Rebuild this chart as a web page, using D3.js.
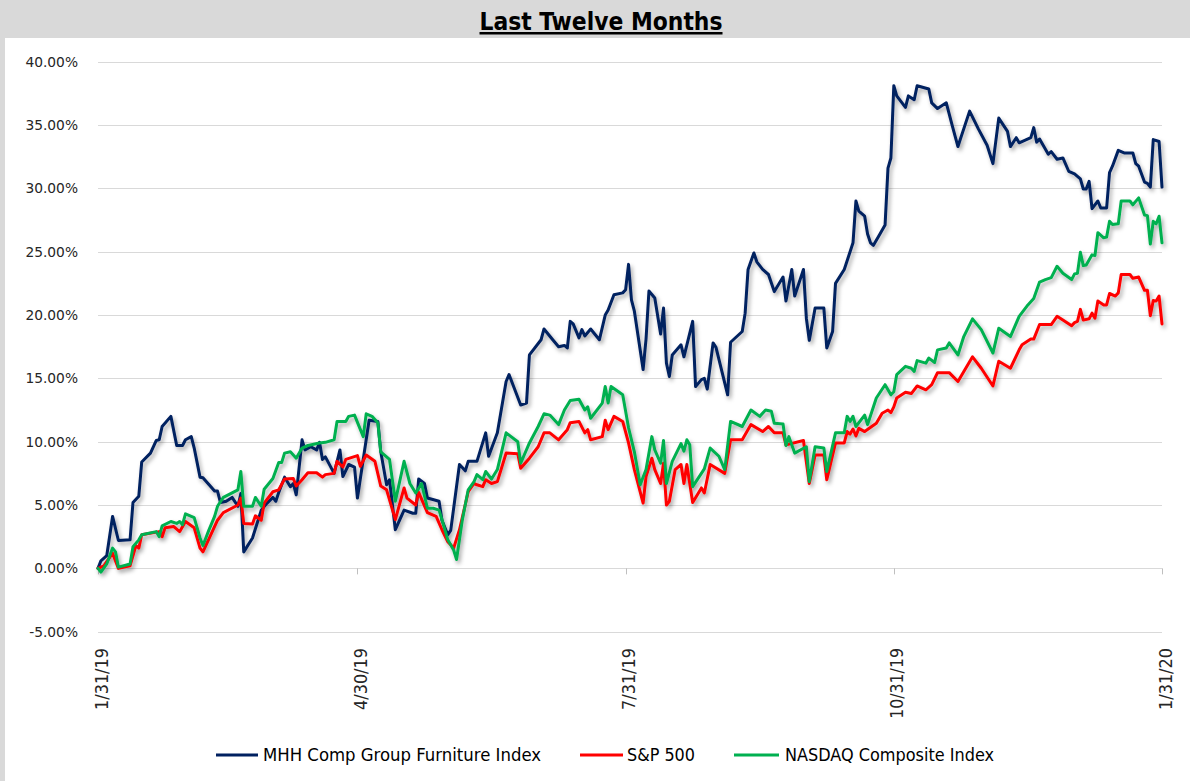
<!DOCTYPE html>
<html>
<head>
<meta charset="utf-8">
<script src="https://cdn.jsdelivr.net/npm/d3@7"></script>
<style>
  html, body { margin: 0; padding: 0; background: #d9d9d9; }
  svg { display: block; }
</style>
</head>
<body>
<svg id="chart" width="1190" height="781"></svg>
<script>
// ---------- DATA (day offset from 1/31/2019, % return) ----------
const startDateStr = "2019-01-31";
const seriesNames = ["MHH Comp Group Furniture Index", "S&P 500", "NASDAQ Composite Index"];
const seriesColors = ["#002060", "#ff0000", "#00b050"];
const yTickValues = [-5, 0, 5, 10, 15, 20, 25, 30, 35, 40];
const xTickDates = ["2019-01-31", "2019-04-30", "2019-07-31", "2019-10-31", "2020-01-31"];
const xTickLabels = ["1/31/19", "4/30/19", "7/31/19", "10/31/19", "1/31/20"];

const mhh = [
  [0,0.0],[1,0.6],[3,1.0],[5,4.1],[7,2.2],[11,2.25],[12,5.2],[14,5.7],[15,8.4],[18,9.1],
  [20,10.1],[21,10.15],[22,11.2],[25,12.0],[27,9.7],[29,9.7],[30,10.15],[32,10.4],[33,9.5],[35,7.2],
  [36,7.15],[40,6.1],[41,6.1],[42,5.2],[44,5.3],[46,5.6],[48,4.9],[49,5.9],[50,1.3],[53,2.4],
  [56,4.6],[58,5.15],[60,5.6],[61,5.3],[62,6.0],[64,7.2],[66,6.45],[67,6.7],[68,5.8],[70,10.15],
  [71,9.35],[73,9.6],[75,9.35],[76,9.95],[77,8.6],[78,8.8],[81,7.5],[83,9.35],[84,7.25],[86,8.2],
  [88,8.0],[89,5.55],[92,10.15],[93,11.7],[96,11.6],[97,9.2],[99,6.6],[100,7.0],[102,3.05],[105,4.6],
  [108,4.35],[109,4.35],[110,7.05],[112,6.7],[113,5.55],[117,5.3],[118,3.8],[120,2.65],[121,3.0],[124,8.2],
  [126,7.7],[127,8.45],[130,8.45],[131,9.2],[133,10.7],[134,8.85],[137,10.7],[140,14.75],[141,15.3],[145,12.9],
  [147,13.05],[148,16.85],[152,18.05],[153,18.9],[156,18.05],[158,17.5],[160,17.6],[161,17.4],[162,19.5],[163,19.3],
  [165,18.2],[166,18.85],[167,18.35],[169,18.9],[172,18.05],[174,20.0],[175,20.4],[177,21.6],[180,21.75],[181,22.0],
  [182,24.0],[183,21.2],[184,20.3],[187,15.7],[188,18.1],[189,21.9],[191,21.35],[193,18.5],[194,20.55],[195,16.2],
  [196,15.15],[197,16.85],[200,17.65],[201,16.7],[204,19.5],[205,14.35],[207,14.9],[208,15.0],[209,14.15],[211,17.8],
  [212,17.45],[216,13.7],[217,17.85],[221,18.7],[222,20.15],[223,23.6],[225,24.9],[226,24.2],[228,23.6],[230,23.2],
  [232,21.85],[235,23.0],[236,21.1],[238,23.6],[239,21.5],[242,23.6],[243,19.75],[244,18.0],[246,20.55],[249,20.55],
  [250,17.4],[252,18.7],[253,22.5],[256,23.6],[258,25.0],[259,25.7],[260,29.0],[261,28.2],[263,27.8],[264,26.4],
  [265,25.7],[266,25.5],[268,26.3],[270,27.1],[271,31.6],[272,32.4],[273,38.1],[274,37.3],[277,36.4],[278,37.3],
  [280,37.0],[281,38.1],[285,37.85],[286,36.75],[288,36.3],[291,36.75],[293,35.0],[295,33.3],[299,36.1],[302,34.7],
  [305,33.4],[307,31.95],[309,35.55],[312,34.5],[313,33.3],[315,34.0],[316,33.6],[320,34.0],[321,34.8],[322,33.65],
  [323,33.9],[326,32.7],[327,32.9],[329,32.3],[331,32.4],[333,31.35],[335,31.15],[337,30.75],[338,29.95],[339,29.95],
  [340,30.55],[341,28.4],[343,29.0],[344,28.45],[346,28.45],[347,31.25],[348,31.75],[350,33.0],[352,32.8],[355,32.8],
  [356,31.95],[357,31.75],[359,30.5],[360,30.4],[361,30.1],[362,33.85],[364,33.7],[365,30.1]
];

const sp500 = [
  [0,0.0],[2,0.2],[5,1.2],[7,0.0],[11,0.2],[13,1.8],[14,1.6],[15,2.65],[21,2.9],[22,2.5],
  [23,3.2],[26,3.3],[28,2.9],[30,3.7],[33,3.2],[35,1.6],[36,1.3],[41,3.8],[43,4.4],[48,5.0],
  [49,5.55],[50,3.55],[53,3.5],[54,4.15],[56,3.8],[57,5.15],[60,6.05],[62,6.2],[64,7.05],[67,7.1],
  [68,6.5],[70,7.0],[72,7.55],[75,7.55],[77,7.2],[78,7.4],[81,7.5],[82,8.45],[84,8.0],[85,8.6],
  [89,8.9],[90,8.05],[92,8.95],[95,8.45],[97,6.5],[99,6.2],[102,3.85],[105,6.35],[106,5.55],[109,5.0],
  [110,6.0],[113,4.4],[116,4.1],[118,3.05],[120,2.1],[122,1.6],[124,3.05],[127,6.05],[129,6.7],[130,6.6],
  [132,6.45],[133,7.0],[135,6.7],[137,6.85],[140,9.1],[144,9.05],[145,7.9],[148,8.7],[151,9.6],[153,10.7],
  [155,10.7],[158,10.15],[161,10.95],[162,11.5],[165,11.6],[167,10.7],[168,10.95],[169,10.15],[173,10.4],[174,11.7],
  [175,10.95],[177,12.0],[180,11.6],[182,9.9],[184,7.8],[187,5.15],[188,7.25],[190,8.7],[191,7.8],[193,6.7],
  [194,8.3],[195,5.0],[196,5.3],[198,7.8],[200,8.2],[201,6.7],[202,8.2],[204,5.2],[207,6.35],[208,5.95],
  [210,8.2],[215,7.5],[217,10.15],[221,10.15],[224,11.35],[228,10.8],[230,11.2],[232,10.7],[235,10.7],[236,9.75],
  [242,10.1],[244,6.7],[246,8.95],[249,8.95],[250,7.0],[253,9.9],[256,9.9],[257,10.8],[258,10.6],[259,11.0],
  [260,10.45],[261,11.05],[263,10.8],[267,11.45],[269,12.25],[271,12.5],[272,12.3],[273,12.75],[274,13.45],[277,13.9],
  [279,13.8],[281,14.4],[284,14.1],[286,14.5],[288,15.45],[292,15.45],[295,14.75],[300,16.7],[303,15.8],[307,14.4],
  [309,16.35],[313,15.8],[316,17.25],[317,17.65],[320,18.1],[321,18.1],[323,19.25],[327,19.25],[329,19.9],[331,19.6],
  [334,19.15],[335,19.4],[336,19.5],[337,20.45],[338,19.6],[340,19.7],[341,20.15],[342,19.75],[343,21.1],[345,20.8],
  [346,20.8],[347,21.7],[349,21.5],[350,21.75],[351,23.2],[354,23.2],[355,22.9],[357,23.0],[359,21.95],[360,21.95],
  [361,19.95],[362,21.15],[363,21.1],[364,21.5],[365,19.3]
];

const nasdaq = [
  [0,0.0],[1,-0.3],[3,0.35],[5,1.6],[6,1.3],[7,0.1],[11,0.35],[12,1.7],[14,2.25],[15,2.65],
  [20,2.9],[21,2.5],[22,3.35],[25,3.7],[27,3.55],[28,3.7],[29,3.45],[30,4.3],[33,4.0],[35,2.4],
  [36,1.8],[38,3.0],[40,4.1],[41,4.9],[43,5.6],[48,6.2],[49,7.65],[50,4.9],[53,4.9],[54,5.6],
  [56,4.9],[57,6.25],[60,7.1],[62,8.35],[63,8.35],[64,9.1],[66,9.2],[68,8.7],[70,9.5],[72,9.7],
  [76,9.9],[78,9.95],[81,10.15],[82,11.6],[85,11.6],[86,12.0],[88,12.1],[91,10.4],[92,12.2],[94,12.0],
  [96,11.5],[97,9.2],[100,8.6],[102,5.3],[105,8.45],[107,6.7],[109,5.95],[111,6.7],[113,4.75],[115,4.75],
  [117,4.6],[118,3.85],[120,2.25],[122,1.45],[123,0.7],[125,3.85],[127,6.2],[129,6.85],[130,7.4],[132,7.0],
  [133,7.65],[135,7.05],[137,7.8],[140,10.7],[144,10.0],[145,8.3],[148,9.9],[151,11.2],[153,12.2],[155,12.1],
  [158,11.35],[160,12.5],[162,13.25],[165,13.35],[167,12.5],[168,12.75],[169,11.85],[173,13.05],[174,14.35],[175,13.05],
  [176,14.35],[180,13.7],[182,11.1],[184,9.2],[186,6.6],[188,7.8],[190,10.4],[191,9.35],[193,8.3],[194,10.1],
  [195,6.7],[197,8.45],[200,9.85],[201,9.25],[202,10.15],[203,9.75],[204,6.45],[208,7.85],[210,9.5],[213,8.85],
  [215,7.8],[217,11.6],[221,11.2],[224,12.5],[227,12.0],[229,12.5],[231,12.4],[232,11.45],[235,11.4],[236,9.7],
  [237,10.4],[239,9.1],[243,9.6],[244,6.85],[246,9.6],[249,9.5],[250,7.65],[253,10.7],[256,10.7],[257,12.0],
  [258,11.6],[259,12.0],[260,11.2],[263,12.1],[264,11.35],[267,13.45],[270,14.5],[272,13.7],[273,13.95],[274,15.3],
  [277,15.95],[279,15.8],[280,15.55],[281,16.4],[284,16.2],[285,16.6],[287,16.25],[288,17.25],[291,17.4],[292,17.8],
  [295,16.85],[297,18.3],[300,19.7],[303,18.85],[307,17.0],[309,18.95],[313,18.3],[316,19.9],[319,20.8],[321,21.3],
  [323,22.6],[325,22.8],[327,22.95],[329,23.85],[331,23.3],[334,22.8],[335,23.25],[336,23.3],[337,24.95],[338,23.9],
  [339,23.95],[341,24.75],[342,24.7],[343,26.5],[345,26.1],[346,26.15],[347,27.4],[348,27.15],[350,27.2],[351,29.0],
  [354,29.0],[355,28.7],[357,29.25],[359,27.9],[360,27.85],[361,25.6],[362,27.4],[363,27.2],[364,27.8],[365,25.7]
];

// ---------- DRAWING ----------
const svg = d3.select("#chart");
const W = 1190, H = 781;
const parse = d3.timeParse("%Y-%m-%d");
const start = parse(startDateStr);
const toDate = d => d3.timeDay.offset(start, d);

const x = d3.scaleTime().domain([parse(xTickDates[0]), parse(xTickDates[xTickDates.length - 1])]).range([98, 1162]);
const y = d3.scaleLinear().domain([-5, 40]).range([631.7, 61.7]);

const narrowFont = "'Liberation Sans Narrow', 'Arial Narrow', 'DejaVu Sans Condensed', sans-serif";

// background
svg.append("rect").attr("x", 0).attr("y", 0).attr("width", W).attr("height", H).attr("fill", "#d9d9d9");
svg.append("rect").attr("x", 5).attr("y", 38).attr("width", W - 5).attr("height", H - 38).attr("fill", "#ffffff");

// title
svg.append("text")
  .attr("x", 601).attr("y", 30)
  .attr("text-anchor", "middle")
  .attr("font-family", narrowFont)
  .attr("font-weight", "bold")
  .attr("font-size", 25)
  .attr("textLength", 243).attr("lengthAdjust", "spacingAndGlyphs")
  .attr("fill", "#000")
  .style("text-decoration", "underline")
  .text("Last Twelve Months");

// shadow filter
const defs = svg.append("defs");
const f = defs.append("filter").attr("id", "shadow").attr("x", "-5%").attr("y", "-5%").attr("width", "110%").attr("height", "115%");
f.append("feDropShadow").attr("dx", 2).attr("dy", 3).attr("stdDeviation", 2)
  .attr("flood-color", "#000").attr("flood-opacity", 0.35);

// gridlines
svg.append("g").selectAll("line").data(yTickValues).join("line")
  .attr("x1", 98).attr("x2", 1162)
  .attr("y1", d => Math.round(y(d)) + 0.5).attr("y2", d => Math.round(y(d)) + 0.5)
  .attr("stroke", "#d9d9d9").attr("stroke-width", 1);

// y labels
svg.append("g").selectAll("text").data(yTickValues).join("text")
  .attr("x", 78).attr("y", d => y(d))
  .attr("dy", "0.36em")
  .attr("text-anchor", "end")
  .attr("font-family", "'DejaVu Sans', Verdana, sans-serif")
  .attr("font-size", 13.8)
  .attr("fill", "#262626")
  .text(d => d.toFixed(2) + "%");

// x ticks (at 0% line)
const xTicks = xTickDates.map(parse);
svg.append("g").selectAll("line").data(xTicks).join("line")
  .attr("x1", d => Math.round(x(d)) + 0.5).attr("x2", d => Math.round(x(d)) + 0.5)
  .attr("y1", y(0)).attr("y2", y(0) + 6)
  .attr("stroke", "#bfbfbf").attr("stroke-width", 1);

// x labels rotated
svg.append("g").selectAll("text").data(xTicks).join("text")
  .attr("transform", d => `translate(${x(d) + 9.5},648) rotate(-90)`)
  .attr("text-anchor", "end")
  .attr("font-family", narrowFont)
  .attr("font-size", 17)
  .attr("textLength", (d, i) => xTickLabels[i].length * 8.86)
  .attr("lengthAdjust", "spacingAndGlyphs")
  .attr("fill", "#262626")
  .text((d, i) => xTickLabels[i]);

// lines
const line = d3.line().x(d => x(toDate(d[0]))).y(d => y(d[1])).curve(d3.curveLinear);
const allSeries = [mhh, sp500, nasdaq];
const gLines = svg.append("g").attr("filter", "url(#shadow)");
allSeries.forEach((s, i) => {
  gLines.append("path").datum(s)
    .attr("d", line)
    .attr("fill", "none")
    .attr("stroke", seriesColors[i])
    .attr("stroke-width", 3)
    .attr("stroke-linejoin", "round")
    .attr("stroke-linecap", "round");
});

// legend
const legendItems = [
  { x1: 216, x2: 258, tx: 263, tw: 278 },
  { x1: 580, x2: 623, tx: 627, tw: 68 },
  { x1: 734, x2: 779, tx: 785, tw: 209 }
];
const lg = svg.append("g");
legendItems.forEach((it, i) => {
  lg.append("line").attr("x1", it.x1).attr("x2", it.x2).attr("y1", 755).attr("y2", 755)
    .attr("stroke", seriesColors[i]).attr("stroke-width", 3);
  lg.append("text").attr("x", it.tx).attr("y", 755).attr("dy", "0.35em")
    .attr("font-family", narrowFont)
    .attr("font-size", 17)
    .attr("textLength", it.tw).attr("lengthAdjust", "spacingAndGlyphs")
    .attr("fill", "#000")
    .text(seriesNames[i]);
});
</script>
</body>
</html>
